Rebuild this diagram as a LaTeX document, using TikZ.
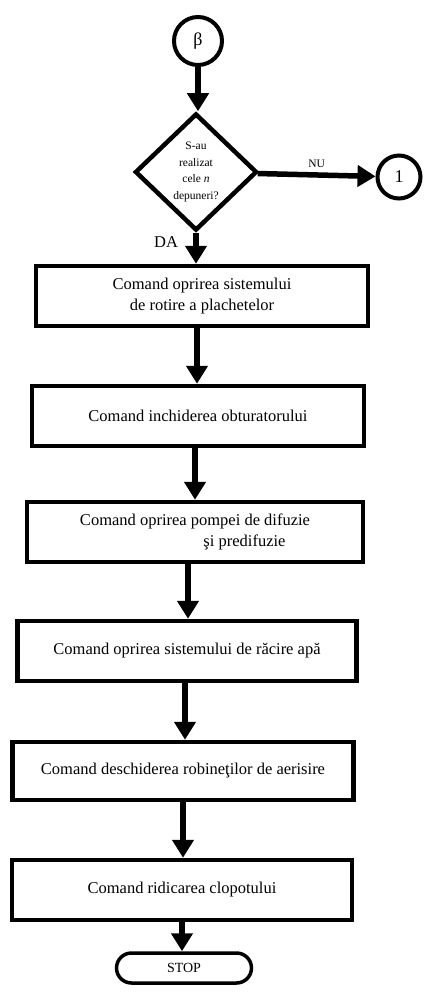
\documentclass[tikz,border=0pt]{standalone}
\usepackage{fontspec}
\setmainfont{Liberation Serif}
\usetikzlibrary{arrows.meta, shapes.geometric, shapes.misc}

\begin{document}
\begin{tikzpicture}[
        x=1pt, y=-1pt,
        every node/.style={font=\fontsize{16.5}{21}\selectfont},
        box/.style={draw, line width=4.5pt, minimum width=332pt, minimum height=60pt, align=center, inner sep=0pt},
        cond/.style={diamond, draw, line width=4.5pt, minimum width=122pt, minimum height=117pt, inner sep=0pt, align=center, font=\fontsize{11.5}{16.5}\selectfont},
        conn/.style={circle, draw, line width=4pt, inner sep=0pt, font=\fontsize{18}{20}\selectfont},
        term/.style={rounded rectangle, draw, line width=3.5pt, minimum width=135pt, minimum height=30pt, inner sep=0pt, font=\fontsize{14}{16}\selectfont},
        arr/.style={-{Triangle[length=18pt, width=21pt]}, line width=5.5pt}
    ]
    \useasboundingbox (0,0) rectangle (425,995);

    \node[conn, minimum size=48pt] (beta) at (198,41) {β};
    \node[cond] (test) at (196,172) {S-au\\realizat\\cele \textit{n}\\depuneri?};
    \node[conn, minimum size=43pt] (one) at (399,177) {1};

    \node[box] (rot) at (202,296) {Comand oprirea sistemului\\de rotire a plachetelor};
    \node[box] (obt) at (198,416) {Comand inchiderea obturatorului};
    \node[box, minimum width=336pt] (pomp) at (195,532) {Comand oprirea pompei de difuzie\\\hspace*{6em}şi predifuzie};
    \node[box, minimum width=339pt] (apa) at (187,651) {Comand oprirea sistemului de răcire apă};
    \node[box, minimum width=341pt, minimum height=58pt] (aer) at (183,771) {Comand deschiderea robineţilor de aerisire};
    \node[box, minimum width=340pt] (clop) at (182,890) {Comand ridicarea clopotului};
    \node[term] (stop) at (184,968) {STOP};

    \draw[arr] (beta.south) -- (beta.south |- test.north);
    \draw[arr] (test) -- node[above=1pt, font=\fontsize{11.5}{13}\selectfont]{NU} (one);
    \draw[arr] (test.south) -- node[pos=0.3, left=12pt]{DA} (test.south |- rot.north);
    \draw[arr] ([xshift=-5pt]rot.south) -- ([xshift=-5pt]rot.south |- obt.north);
    \draw[arr] ([xshift=-3pt]obt.south) -- ([xshift=-3pt]obt.south |- pomp.north);
    \draw[arr] ([xshift=-7pt]pomp.south) -- ([xshift=-7pt]pomp.south |- apa.north);
    \draw[arr] ([xshift=-2pt]apa.south) -- ([xshift=-2pt]apa.south |- aer.north);
    \draw[arr] (aer.south) -- (aer.south |- clop.north);
    \draw[arr] (clop.south) -- (clop.south |- stop.north);
\end{tikzpicture}
\end{document}
